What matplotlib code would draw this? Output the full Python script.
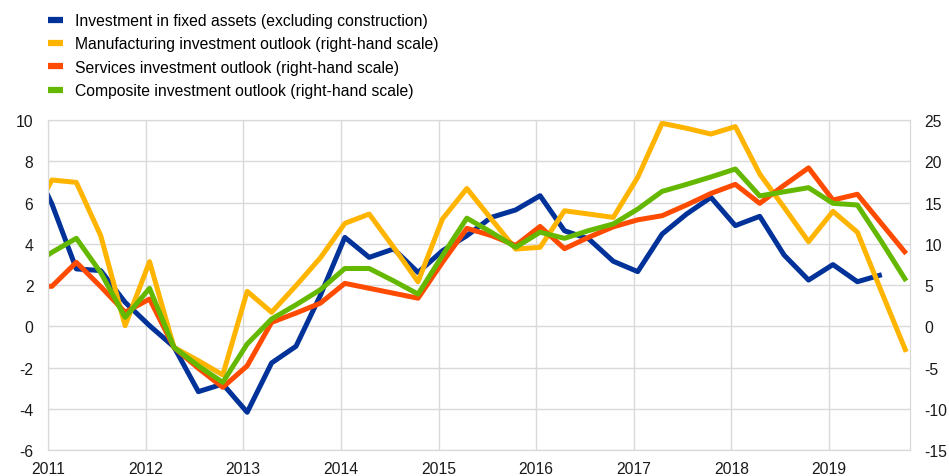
import matplotlib
matplotlib.use("Agg")
from matplotlib import pyplot as plt
import numpy as np

plt.rcParams['font.family'] = ['Liberation Sans', 'DejaVu Sans']
plt.rcParams['axes.unicode_minus'] = False

# quarterly observations, first one (Q4 2010) is clipped at the left edge
quarters = np.arange(-1, 36)
x = 2011.04 + 0.25 * quarters

fixed_assets = [8.4, 5.93, 2.78, 2.7, 1.16, 0.03, -1.0, -3.17, -2.8, -4.17, -1.78, -0.97, 1.5,
                4.31, 3.34, 3.75, 2.61, 3.66, 4.39, 5.28, 5.64, 6.33, 4.63, 4.23, 3.15,
                2.65, 4.47, 5.44, 6.25, 4.88, 5.33, 3.45, 2.24, 2.99, 2.16, 2.5, np.nan]
manufacturing = [12.2, 17.73, 17.44, 10.98, 0.07, 7.83, -2.56, -4.17, -5.9, 4.23, 1.69, 4.92, 8.3,
                 12.47, 13.6, 9.57, 5.4, 13.0, 16.7, 13.0, 9.36, 9.57, 14.0, 13.6, 13.2,
                 18.05, 24.6, 24.0, 23.3, 24.2, 18.45, 14.4, 10.25, 13.93, 11.4, 4.1, -3.1]
services = [4.84, 4.84, 7.75, 4.8, 1.7, 3.3, -2.56, -5.1, -7.4, -4.8, 0.47, 1.6, 2.8,
            5.2, 4.6, 4.0, 3.4, 7.75, 11.87, 11.0, 9.8, 12.1, 9.4, 10.8, 12.05,
            12.9, 13.4, 14.7, 16.1, 17.2, 14.9, 17.1, 19.2, 15.3, 16.0, 12.4, 8.8]
composite = [7.0, 8.96, 10.66, 6.5, 1.08, 4.6, -2.56, -4.8, -6.8, -2.15, 0.88, 2.6, 4.43,
             7.0, 7.0, 5.5, 3.9, 8.56, 13.1, 11.4, 9.57, 11.4, 10.66, 11.6, 12.4,
             14.2, 16.35, 17.2, 18.1, 19.06, 15.8, 16.3, 16.8, 14.9, 14.7, 10.2, 5.5]

labels = ["Investment in fixed assets (excluding construction)",
          "Manufacturing investment outlook (right-hand scale)",
          "Services investment outlook (right-hand scale)",
          "Composite investment outlook (right-hand scale)"]
colors = ["#003299", "#FFB400", "#FF4B00", "#65B800"]
years = list(range(2011, 2020))

fig = plt.figure(figsize=(9.49, 4.77), dpi=100)
ax1 = fig.add_axes([0.0506, 0.0545, 0.9084, 0.6918])
ax2 = ax1.twinx()

lw = 3.6
l1, = ax1.plot(x, fixed_assets, color=colors[0], lw=lw, solid_capstyle='butt')
l2, = ax2.plot(x, manufacturing, color=colors[1], lw=lw, solid_capstyle='butt')
l3, = ax2.plot(x, services, color=colors[2], lw=lw, solid_capstyle='butt')
l4, = ax2.plot(x, composite, color=colors[3], lw=lw, solid_capstyle='butt')

ax1.set_xlim(2011, 2019.83)
ax1.set_ylim(-6, 10)
ax2.set_ylim(-15, 25)
ax1.set_yticks(range(-6, 11, 2))
ax2.set_yticks(range(-15, 26, 5))
ax1.set_xticks(years)
ax1.set_xticklabels([str(y) for y in years])

fs = 11.3
grid_col = "#d9d9d9"
ax1.grid(True, color=grid_col, lw=1)
ax1.set_axisbelow(True)
for ax in (ax1, ax2):
    for s in ax.spines.values():
        s.set_color(grid_col)
    ax.tick_params(length=0, labelsize=fs, colors="#1a1a1a")
ax1.tick_params(axis='y', pad=10.5)
ax1.tick_params(axis='x', pad=8)
ax2.tick_params(axis='y', pad=10.5)

fig.legend([l1, l2, l3, l4], labels, loc='upper left', bbox_to_anchor=(0.0357, 1.0),
           frameon=False, fontsize=fs, handlelength=0.96, handletextpad=0.76,
           labelspacing=0.53)
for h in fig.legends[0].get_lines():
    h.set_linewidth(4.5)

fig.savefig("out.png", dpi=100)
